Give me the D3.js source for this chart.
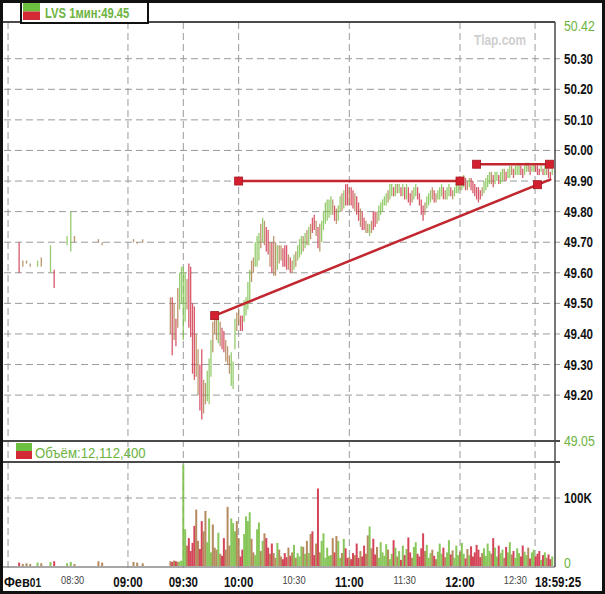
<!DOCTYPE html>
<html>
<head>
<meta charset="utf-8">
<script src="https://cdn.jsdelivr.net/npm/d3@7"></script>
<style>
  body { margin: 0; background: #fff; }
  svg text { font-family: "Liberation Sans", Arial, sans-serif; }
</style>
</head>
<body>
<div class="chart"></div>
<script>
// ---- data ----
const title = "LVS 1мин:49.45";
const volumeTitle = "Объём:12,112,400";

// pre-market bars: minutes since midnight, high, low, direction, volume (K)
const preMinutes = [481,483,485,487,491,493,498,500,507,509,511,524,526,543,545,548,563,564,565,566,567,568,569];
const preHigh = [49.70,49.64,49.64,49.63,49.64,49.65,49.69,49.61,49.72,49.80,49.72,49.71,49.70,49.71,49.70,49.71,49.52,49.52,49.50,49.45,49.55,49.60,49.62];
const preLow  = [49.60,49.62,49.63,49.62,49.62,49.62,49.60,49.55,49.69,49.67,49.70,49.70,49.69,49.70,49.70,49.70,49.40,49.33,49.38,49.36,49.42,49.48,49.50];
const preDir  = "dnnnunuduunnnnnnndndnuu";
const preVol  = [5,3,4,3,5,4,6,7,4,6,3,7,5,6,5,4,7,6,8,7,6,7,8];

// regular session, one bar per minute from 09:30
const sessionStart = 570;
const sessHigh = [
  49.62,49.60,49.58,49.63,49.62,49.50,49.49,49.40,49.35,49.30,
  49.35,49.25,49.24,49.28,49.32,49.38,49.44,49.47,49.46,49.45,
  49.44,49.42,49.41,49.38,49.36,49.33,49.34,49.31,49.45,49.47,
  49.48,49.46,49.46,49.51,49.52,49.57,49.61,49.64,49.65,49.70,
  49.72,49.73,49.76,49.78,49.77,49.75,49.74,49.70,49.70,49.72,
  49.70,49.69,49.69,49.69,49.68,49.69,49.69,49.66,49.65,49.64,
  49.66,49.67,49.69,49.71,49.72,49.72,49.73,49.74,49.75,49.76,
  49.78,49.79,49.77,49.75,49.76,49.77,49.80,49.83,49.84,49.84,
  49.85,49.84,49.82,49.81,49.82,49.85,49.86,49.87,49.89,49.89,
  49.88,49.88,49.87,49.86,49.85,49.83,49.81,49.80,49.78,49.77,
  49.76,49.76,49.77,49.80,49.80,49.80,49.82,49.83,49.84,49.85,
  49.86,49.87,49.89,49.89,49.88,49.89,49.89,49.89,49.88,49.89,
  49.88,49.89,49.88,49.86,49.87,49.88,49.89,49.88,49.86,49.84,
  49.82,49.83,49.85,49.86,49.87,49.88,49.87,49.86,49.87,49.88,
  49.89,49.88,49.87,49.88,49.89,49.88,49.87,49.88,49.89,49.90,
  49.90,49.91,49.92,49.91,49.90,49.91,49.91,49.90,49.89,49.88,
  49.88,49.87,49.88,49.90,49.91,49.92,49.93,49.93,49.92,49.93,
  49.93,49.92,49.93,49.94,49.94,49.93,49.94,49.95,49.95,49.94,
  49.95,49.95,49.96,49.95,49.94,49.95,49.96,49.96,49.95,49.95,
  49.96,49.95,49.95,49.94,49.95,49.94,49.95,49.94,49.94,49.93,
  49.94];
const sessLow = [
  49.38,49.44,49.48,49.42,49.39,49.27,49.25,49.26,49.20,49.15,
  49.12,49.14,49.17,49.18,49.17,49.26,49.34,49.40,49.38,49.37,
  49.36,49.35,49.34,49.31,49.30,49.27,49.23,49.22,49.35,49.41,
  49.43,49.41,49.41,49.44,49.46,49.48,49.50,49.57,49.60,49.62,
  49.62,49.64,49.68,49.70,49.69,49.67,49.66,49.62,49.60,49.59,
  49.59,49.61,49.63,49.64,49.62,49.62,49.61,49.61,49.60,49.60,
  49.61,49.62,49.64,49.65,49.66,49.67,49.68,49.69,49.69,49.71,
  49.73,49.74,49.72,49.68,49.67,49.70,49.74,49.76,49.77,49.78,
  49.79,49.79,49.77,49.76,49.77,49.80,49.80,49.81,49.82,49.82,
  49.82,49.82,49.81,49.80,49.79,49.77,49.75,49.74,49.74,49.73,
  49.73,49.72,49.73,49.74,49.75,49.76,49.77,49.79,49.80,49.82,
  49.82,49.83,49.84,49.85,49.85,49.85,49.86,49.86,49.85,49.85,
  49.84,49.84,49.83,49.82,49.83,49.84,49.85,49.84,49.82,49.79,
  49.77,49.79,49.81,49.82,49.83,49.84,49.83,49.83,49.84,49.84,
  49.85,49.84,49.84,49.84,49.85,49.85,49.84,49.85,49.86,49.86,
  49.87,49.87,49.88,49.87,49.87,49.88,49.87,49.86,49.85,49.84,
  49.83,49.84,49.85,49.86,49.87,49.88,49.89,49.89,49.88,49.89,
  49.90,49.89,49.89,49.90,49.90,49.90,49.91,49.91,49.92,49.91,
  49.92,49.92,49.92,49.92,49.91,49.92,49.93,49.93,49.92,49.93,
  49.93,49.93,49.92,49.92,49.93,49.92,49.92,49.92,49.91,49.91,
  49.92];
const sessDir =
  "uunddddnnd" + "dnnuuunnnu" + "nddnnnuuun" + "ndduuuunnu" + "uununddndn" +
  "nunndddndn" + "unuuununun" + "ddndnuuuuu" + "undnuunudd" + "nddnddnddn" +
  "nunddnuuuu" + "unuudunudu" + "duddnuuddd" + "dnuuundnuu" + "udnuudnuuu" +
  "nuudnudddd" + "ddnuuuundu" + "uduunduund" + "uuudduundu" + "udddudundd" + "u";
const sessVol = [
  149,54,30,41,22,34,59,83,37,25,
  66,51,81,35,70,20,61,27,24,49,
  18,15,41,24,87,30,70,63,51,66,
  41,14,24,47,73,66,79,40,20,16,
  54,64,22,37,48,41,27,18,33,19,
  12,34,24,14,10,19,13,27,15,20,
  31,12,19,14,29,28,18,37,19,47,
  51,16,33,114,20,37,48,12,27,15,
  16,41,20,44,37,12,19,40,26,12,
  13,10,19,16,33,12,22,14,30,18,
  45,58,26,40,17,28,12,35,20,15,
  32,24,10,18,38,27,14,22,9,30,
  16,25,42,20,12,28,35,18,14,26,
  48,22,31,12,19,24,15,10,21,33,
  18,27,13,20,38,17,23,12,30,16,
  21,34,18,11,25,16,29,14,20,31,
  24,13,19,26,15,33,22,18,41,27,
  14,30,19,24,12,28,20,35,17,22,
  12,26,19,14,30,21,16,27,11,20,
  24,14,18,22,9,16,20,12,17,10,
  14];

// price axis
const priceTicks = [49.2,49.3,49.4,49.5,49.6,49.7,49.8,49.9,50.0,50.1,50.2,50.3];
const priceMin = 49.05, priceMax = 50.42;

// time axis
const tickMinutes = [510,540,570,600,630,660,690,720,750];
const tickLabels  = ["08:30","09:00","09:30","10:00","10:30","11:00","11:30","12:00","12:30"];
const tickMajor   = [false,true,true,true,false,true,false,true,false];
const gridMinutes = [475,540,570,600,660,720,760.7];
const lastTimeLabel = "18:59:25", lastTimeMinute = 760.7;

// drawn trend lines
const trendLines = [
  {t1: 600,   p1: 49.90,  t2: 720,   p2: 49.90},
  {t1: 729,   p1: 49.955, t2: 768.5, p2: 49.955},
  {t1: 587,   p1: 49.46,  t2: 762,   p2: 49.888, extendTo: 769.5}
];

// ---- layout ----
const W = 605, H = 594;
const plotLeft = 4, plotRight = 555;
const priceTop = 22, priceBottom = 441;
const volTop = 462, volBottom = 566;

const svg = d3.select("div.chart").append("svg")
  .attr("width", W)
  .attr("height", H);

const x = d3.scaleLinear().domain([472.8, 771.5]).range([plotLeft, plotRight]);
const y = d3.scaleLinear().domain([priceMin, priceMax]).range([priceBottom, priceTop]);
const yVol = d3.scaleLinear().domain([0, 100]).range([volBottom, 498]);

const green = "#6db33f";
const barColor = {u: "#7cc14a", d: "#cf3147", n: "#ad7d4c"};

// narrow text: the original font is condensed, so squeeze horizontally
function label(g, x0, y0, txt, size, weight, fill, sx, anchor) {
  return g.append("text")
    .attr("transform", `translate(${x0},${y0}) scale(${sx},1)`)
    .attr("text-anchor", anchor || "start")
    .style("font-size", size + "px")
    .style("font-weight", weight)
    .style("fill", fill)
    .text(txt);
}

// clip paths
const defs = svg.append("defs");
defs.append("clipPath").attr("id", "clipPrice").append("rect")
  .attr("x", plotLeft).attr("y", priceTop).attr("width", plotRight - plotLeft).attr("height", priceBottom - priceTop);
defs.append("clipPath").attr("id", "clipVol").append("rect")
  .attr("x", plotLeft).attr("y", volTop).attr("width", plotRight - plotLeft).attr("height", volBottom - volTop);

// grid: horizontal price lines
svg.append("g").selectAll("line")
  .data(priceTicks)
  .enter().append("line")
  .attr("x1", plotLeft).attr("x2", plotRight + 5)
  .attr("y1", d => y(d)).attr("y2", d => y(d))
  .attr("stroke", "#9a9a9a")
  .attr("stroke-dasharray", "7 4");

// volume 100K line
svg.append("line")
  .attr("x1", plotLeft).attr("x2", plotRight + 5)
  .attr("y1", yVol(100)).attr("y2", yVol(100))
  .attr("stroke", "#9a9a9a")
  .attr("stroke-dasharray", "7 4");

// vertical time lines
svg.append("g").selectAll("line")
  .data(gridMinutes)
  .enter().append("line")
  .attr("x1", d => x(d)).attr("x2", d => x(d))
  .attr("y1", priceTop).attr("y2", volBottom + 6)
  .attr("stroke", "#9a9a9a")
  .attr("stroke-dasharray", "7 4");

// combine bars
const bars = preMinutes.map((t, i) => ({t: t, hi: preHigh[i], lo: preLow[i], dir: preDir[i], vol: preVol[i]}))
  .concat(sessHigh.map((h, i) => ({t: sessionStart + i, hi: h, lo: sessLow[i], dir: sessDir[i], vol: sessVol[i]})));

// volume bars
svg.append("g").attr("clip-path", "url(#clipVol)")
  .selectAll("rect")
  .data(bars)
  .enter().append("rect")
  .attr("x", d => x(d.t) - 1)
  .attr("width", 2)
  .attr("y", d => yVol(d.vol))
  .attr("height", d => yVol(0) - yVol(d.vol))
  .attr("fill", d => barColor[d.dir])
  .attr("opacity", 0.9);

// price bars
svg.append("g").attr("clip-path", "url(#clipPrice)")
  .selectAll("line")
  .data(bars)
  .enter().append("line")
  .attr("x1", d => x(d.t)).attr("x2", d => x(d.t))
  .attr("y1", d => y(d.hi))
  .attr("y2", d => Math.max(y(d.lo), y(d.hi) + 1.5))
  .attr("stroke", d => barColor[d.dir])
  .attr("stroke-width", 1.3)
  .attr("opacity", 0.8);

// trend lines
const tl = svg.append("g");
trendLines.forEach(function(d) {
  let tEnd = d.t2, pEnd = d.p2;
  if (d.extendTo) {
    tEnd = d.extendTo;
    pEnd = d.p1 + (d.p2 - d.p1) * (d.extendTo - d.t1) / (d.t2 - d.t1);
  }
  tl.append("line")
    .attr("x1", x(d.t1)).attr("y1", y(d.p1))
    .attr("x2", x(tEnd)).attr("y2", y(pEnd))
    .attr("stroke", "#c2262f")
    .attr("stroke-width", 2.5);
  [[d.t1, d.p1], [d.t2, d.p2]].forEach(function(m) {
    tl.append("rect")
      .attr("x", x(m[0]) - 4).attr("y", y(m[1]) - 4)
      .attr("width", 8).attr("height", 8)
      .attr("fill", "#d4202e")
      .attr("stroke", "#a3161f")
      .attr("stroke-width", 0.8);
  });
});

// panel frame lines
const frame = svg.append("g").attr("stroke", "#4a4a4a");
frame.append("line").attr("x1", 0).attr("x2", plotRight).attr("y1", priceTop).attr("y2", priceTop).attr("stroke-width", 2);
frame.append("line").attr("x1", 0).attr("x2", plotRight + 5).attr("y1", priceBottom).attr("y2", priceBottom).attr("stroke-width", 2);
frame.append("line").attr("x1", 0).attr("x2", plotRight + 5).attr("y1", volTop).attr("y2", volTop).attr("stroke-width", 2);
frame.append("line").attr("x1", 0).attr("x2", plotRight).attr("y1", volBottom + 1).attr("y2", volBottom + 1).attr("stroke", "#8a8a8a").attr("stroke-width", 1.5);
frame.append("line").attr("x1", plotRight).attr("x2", plotRight).attr("y1", priceTop).attr("y2", volBottom + 1).attr("stroke-width", 1.5);

// price labels
const labels = svg.append("g");
priceTicks.forEach(function(p) {
  label(labels, 564, y(p) + 5, p.toFixed(2), 14, "bold", "#111", 0.83);
});
[priceMax, priceMin].forEach(function(p) {
  label(labels, 564, Math.max(y(p), 26) + 5, p.toFixed(2), 14, "normal", green, 0.88);
});

// volume labels
label(labels, 564, yVol(100) + 5, "100K", 14, "bold", "#111", 0.83);
label(labels, 564, yVol(0) + 2, "0", 14, "normal", green, 0.88);

// time labels
tickMinutes.forEach(function(t, i) {
  if (tickMajor[i]) label(labels, x(t), 587, tickLabels[i], 14, "bold", "#111", 0.82, "middle");
  else label(labels, x(t), 584, tickLabels[i], 11, "normal", "#444", 0.84, "middle");
});
label(labels, x(lastTimeMinute), 587, lastTimeLabel, 14, "bold", "#111", 0.82);

const day = label(labels, 4, 587, "", 14, "bold", "#111", 0.85);
day.append("tspan").style("font-size", "15px").text("Фев");
day.append("tspan").style("font-size", "12px").text("01");

// watermark
label(labels, 500, 45, "Tlap.com", 14, "bold", "#cfcfcf", 0.85, "middle");

// legend icons
function icon(x0, y0, s) {
  svg.append("rect").attr("x", x0).attr("y", y0).attr("width", s).attr("height", s / 2).attr("fill", "#6cbf3f");
  svg.append("rect").attr("x", x0).attr("y", y0 + s / 2).attr("width", s).attr("height", s / 2).attr("fill", "#d42a35");
}

// header box
svg.append("rect")
  .attr("x", 21).attr("y", 1)
  .attr("width", 127).attr("height", 22)
  .attr("fill", "#fff")
  .attr("stroke", "#111")
  .attr("stroke-width", 2);
icon(23, 3, 17);
label(svg, 45, 18, title, 15, "bold", green, 0.75);

// volume header
icon(16, 443, 16);
label(svg, 35, 458, volumeTitle, 15, "normal", green, 0.88);

// outer border
svg.append("rect")
  .attr("x", 1.5).attr("y", 1.5)
  .attr("width", W - 3).attr("height", H - 3)
  .attr("fill", "none")
  .attr("stroke", "#111")
  .attr("stroke-width", 3);
</script>
</body>
</html>
